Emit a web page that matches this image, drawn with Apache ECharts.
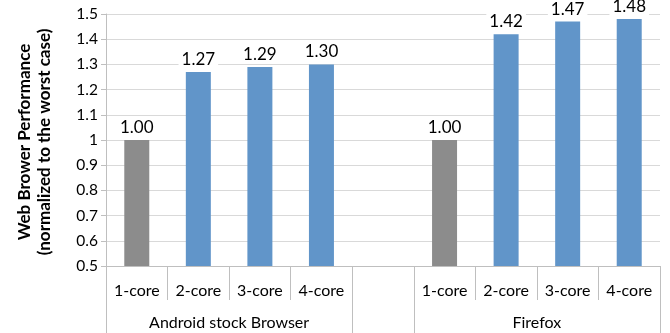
<!DOCTYPE html>
<html><head><meta charset="utf-8">
<script src="https://cdn.jsdelivr.net/npm/echarts@6/dist/echarts.min.js"></script>
<style>html,body{margin:0;padding:0;background:#fff}#c{width:670px;height:333px}</style>
</head><body><div id="c"></div>
<script>
const cores = ['1-core', '2-core', '3-core', '4-core'];
const groups = ['Android stock Browser', 'Firefox'];
const androidVals = [1.00, 1.27, 1.29, 1.30];
const firefoxVals = [1.00, 1.42, 1.47, 1.48];
const yTicks = [0.5, 0.6, 0.7, 0.8, 0.9, 1, 1.1, 1.2, 1.3, 1.4, 1.5];

const categories = cores.concat(['']).concat(cores);
const values = androidVals.concat([null]).concat(firefoxVals);
const groupPos = [cores.length / 2, cores.length + 1 + cores.length / 2];
const groupBounds = [0, cores.length, cores.length + 1, categories.length];

const FONT = 'Lato';
const chart = echarts.init(document.getElementById('c'));
chart.setOption({
  animation: false,
  textStyle: { fontFamily: FONT },
  grid: { left: 106, right: 10, top: 14, bottom: 67, containLabel: false },
  xAxis: [{
    type: 'category', data: categories, position: 'bottom',
    axisLine: { show: true, lineStyle: { color: '#bfbfbf' } },
    axisTick: { show: true, interval: 0, length: 34, lineStyle: { color: '#bfbfbf' } },
    axisLabel: { interval: 0, margin: 17, fontSize: 16, color: '#000', fontFamily: FONT },
    splitLine: { show: false }
  }, {
    type: 'value', min: 0, max: categories.length, position: 'bottom',
    axisLine: { show: false },
    axisTick: { show: true, customValues: groupBounds, length: 67, lineStyle: { color: '#bfbfbf' } },
    axisLabel: {
      customValues: groupPos, margin: 49, fontSize: 16, color: '#000', fontFamily: FONT,
      formatter: v => groups[groupPos.indexOf(v)] || ''
    },
    splitLine: { show: false }
  }],
  yAxis: {
    type: 'value', min: yTicks[0], max: yTicks[yTicks.length - 1], interval: 0.1,
    name: 'Web Brower Performance\n(normalized to the worst case)',
    nameLocation: 'middle', nameGap: 51, nameRotate: 90,
    nameTextStyle: { fontWeight: 'bold', fontSize: 17, color: '#000', fontFamily: FONT, lineHeight: 20,
      padding: [0, 4, 0, 0] },
    axisLine: { show: true, lineStyle: { color: '#bfbfbf' } },
    axisTick: { show: true, length: 5, lineStyle: { color: '#bfbfbf' } },
    axisLabel: { margin: 8, fontSize: 15.5, color: '#000', fontFamily: FONT,
      formatter: v => String(Number(v.toFixed(1))) },
    splitLine: { show: true, lineStyle: { color: '#d9d9d9' } }
  },
  series: [{
    type: 'bar', data: values, barWidth: 25,
    itemStyle: { color: p => (p.dataIndex % (cores.length + 1) === 0 ? '#8c8c8c' : '#6195c9') },
    label: { show: true, position: 'top', distance: 3, fontSize: 17, color: '#000', fontFamily: FONT,
      backgroundColor: '#fff', padding: [1, 3],
      formatter: p => p.value == null ? '' : p.value.toFixed(2) }
  }]
});
</script></body></html>
